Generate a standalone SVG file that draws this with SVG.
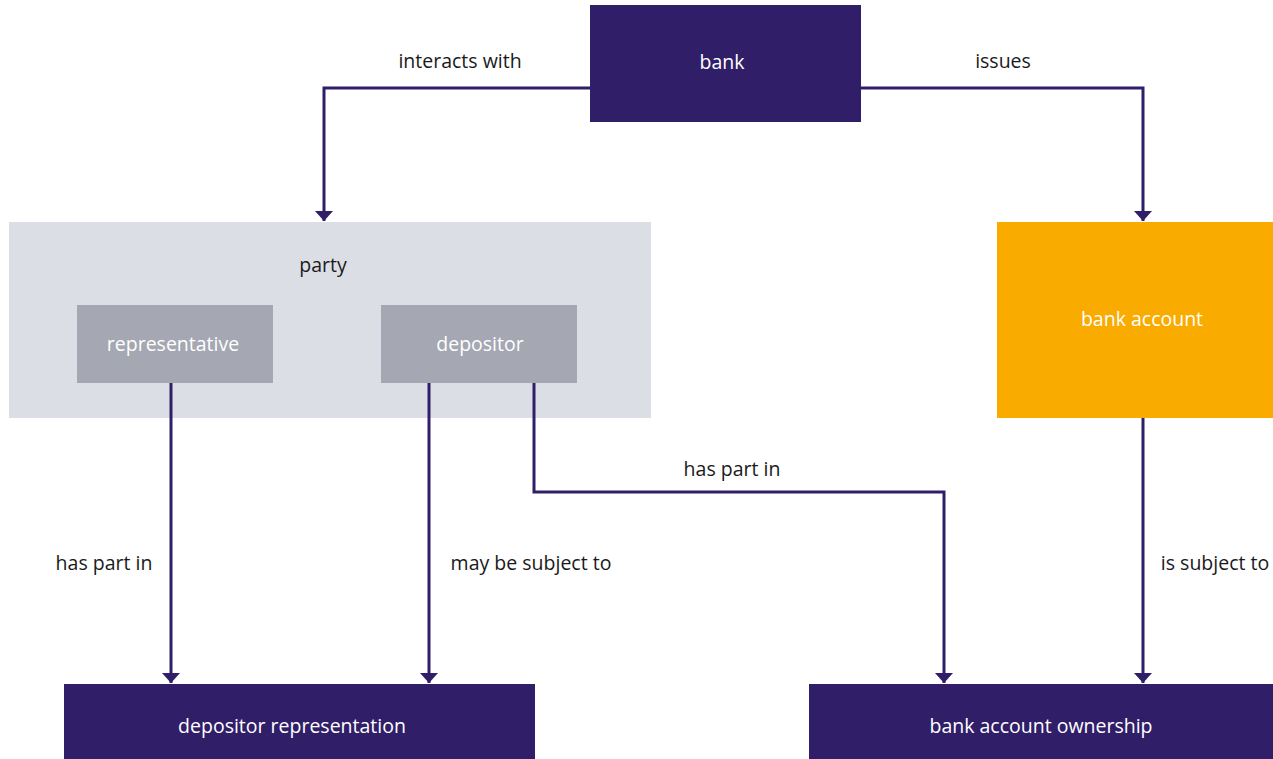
<svg xmlns="http://www.w3.org/2000/svg" width="1273" height="759" viewBox="0 0 1273 759">
<style>
text{font-family:"Open Sans","Noto Sans","Liberation Sans",sans-serif;font-size:19.5px;text-anchor:middle;dominant-baseline:central}
.dark{fill:#311e68}
.lbl{fill:#1a1a1a}
.wt{fill:#ffffff}
.conn{fill:none;stroke:#311e68;stroke-width:3}
</style>
<defs>
<marker id="arr" markerUnits="userSpaceOnUse" markerWidth="20" markerHeight="12" refX="10" refY="11" orient="0" viewBox="0 0 20 12">
<path d="M1,1 L19,1 L10,11 Z" fill="#311e68"/>
</marker>
</defs>
<rect width="1273" height="759" fill="#ffffff"/>
<g id="bank"><rect class="dark" x="590" y="5" width="271" height="117"/><text class="wt" x="722" y="61">bank</text></g>
<g id="party"><rect x="9" y="222" width="642" height="196" fill="#dcdee6"/><text class="lbl" x="323" y="264">party</text></g>
<g id="representative"><rect x="77" y="305" width="196" height="78" fill="#a5a7b3"/><text class="wt" x="173" y="343">representative</text></g>
<g id="depositor"><rect x="381" y="305" width="196" height="78" fill="#a5a7b3"/><text class="wt" x="480" y="343">depositor</text></g>
<g id="bank-account"><rect x="997" y="222" width="276" height="196" fill="#f9ab00"/><text class="wt" x="1142" y="318">bank account</text></g>
<g id="depositor-representation"><rect class="dark" x="64" y="684" width="471" height="75"/><text class="wt" x="292" y="725">depositor representation</text></g>
<g id="bank-account-ownership"><rect class="dark" x="809" y="684" width="464" height="75"/><text class="wt" x="1041" y="725">bank account ownership</text></g>
<g id="connectors">
<path class="conn" d="M590,88 H324 V221" marker-end="url(#arr)"/>
<path class="conn" d="M861,88 H1143 V221" marker-end="url(#arr)"/>
<path class="conn" d="M171,383 V683" marker-end="url(#arr)"/>
<path class="conn" d="M429,383 V683" marker-end="url(#arr)"/>
<path class="conn" d="M534,383 V492 H944 V683" marker-end="url(#arr)"/>
<path class="conn" d="M1143,418 V683" marker-end="url(#arr)"/>
<text class="lbl" x="460" y="60">interacts with</text>
<text class="lbl" x="1003" y="60">issues</text>
<text class="lbl" x="104" y="562">has part in</text>
<text class="lbl" x="531" y="562">may be subject to</text>
<text class="lbl" x="732" y="468">has part in</text>
<text class="lbl" x="1215" y="562">is subject to</text>
</g>
</svg>
